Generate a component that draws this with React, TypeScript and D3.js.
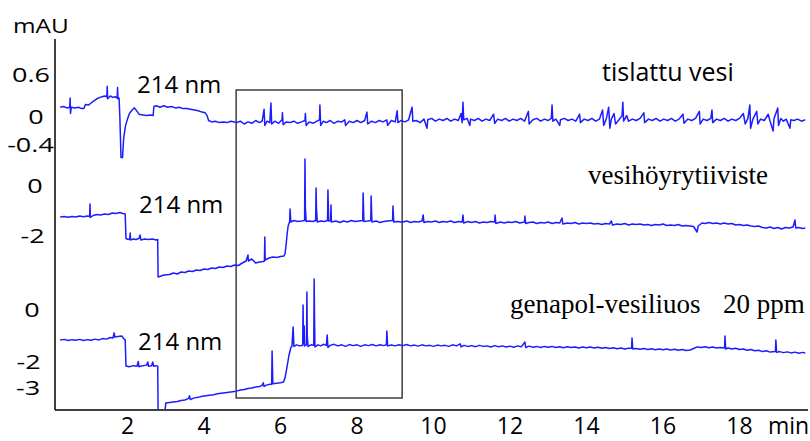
import React from "react";
import * as d3 from "d3";

// ---- data (time in min, absorbance in mAU) ----
const xTicks = [2, 4, 6, 8, 10, 12, 14, 16, 18];

const t1Ticks = [0.6, 0, -0.4];
const t2Ticks = [0, -2];
const t3Ticks = [0, -2, -3];

const traceNames = ["tislattu vesi", "vesihöyrytiiviste", "genapol-vesiliuos", "20 ppm"];
const wavelength = "214 nm";

// tislattu vesi
const trace1: [number, number][] = [
  [0.24,0.14],[0.33,0.15],[0.42,0.13],[0.49,0.14],[0.50,0.27],[0.51,0.05],[0.53,0.14],[0.62,0.13],[0.72,0.14],[0.80,0.12],[0.86,0.12],[0.90,0.18],[0.98,0.17],[1.05,0.2],[1.12,0.23],[1.2,0.26],[1.28,0.28],[1.34,0.29],[1.40,0.3],[1.46,0.29],[1.47,0.44],[1.48,0.26],[1.55,0.3],[1.62,0.28],[1.68,0.29],[1.73,0.27],[1.74,0.42],[1.75,0.26],[1.78,0.27],[1.80,0.0],[1.83,-0.58],[1.87,-0.58],[1.90,-0.3],[1.95,-0.12],[2.0,-0.03],[2.05,0.05],[2.12,0.1],[2.18,0.13],[2.25,0.08],[2.3,0.04],[2.4,0.03],[2.5,0.02],[2.6,0.03],[2.67,0.02],[2.69,0.15],[2.75,0.16],[2.85,0.14],[2.95,0.16],[3.05,0.14],[3.15,0.15],[3.25,0.13],[3.35,0.14],[3.45,0.12],[3.55,0.12],[3.65,0.11],[3.75,0.1],[3.85,0.09],[3.95,0.07],[4.03,0.06],[4.08,0.02],[4.12,-0.05],[4.2,-0.07],[4.3,-0.06],[4.4,-0.08],[4.5,-0.07],[4.6,-0.08],[4.7,-0.06],[4.8,-0.07],
  [4.85,-0.08],[4.95,-0.06],[5.05,-0.1],[5.15,-0.07],[5.25,-0.09],[5.35,-0.05],[5.45,-0.08],[5.52,-0.06],[5.57,0.11],[5.59,-0.12],[5.65,-0.06],[5.72,-0.08],[5.75,0.2],[5.77,-0.1],[5.85,-0.06],[5.95,-0.09],[6.04,-0.04],[6.05,0.06],[6.07,-0.11],[6.15,-0.07],[6.25,-0.08],[6.35,-0.06],[6.45,-0.09],[6.55,-0.07],[6.64,-0.05],[6.65,0.05],[6.67,-0.12],[6.75,-0.07],[6.85,-0.09],[6.95,-0.06],[7.02,-0.04],[7.03,0.17],[7.05,-0.12],[7.12,-0.06],[7.2,-0.08],[7.3,-0.05],[7.4,-0.09],[7.5,-0.06],[7.6,-0.07],[7.68,-0.04],[7.7,-0.12],[7.8,-0.06],[7.9,-0.08],[8.0,-0.05],[8.1,-0.08],[8.2,-0.05],[8.26,0.07],[8.28,-0.1],[8.38,-0.06],[8.48,-0.08],[8.58,-0.05],[8.68,-0.07],[8.78,-0.04],[8.8,-0.12],[8.9,-0.05],[9.0,-0.07],[9.05,0.09],[9.07,-0.08],[9.15,-0.05],[9.25,-0.07],[9.35,-0.04],[9.44,0.14],[9.46,-0.06],[9.55,-0.05],[9.65,-0.08],[9.75,-0.03],[9.83,-0.16],[9.85,-0.04],[9.95,-0.02],[10.05,-0.06],[10.15,-0.03],[10.25,-0.05],[10.35,-0.02],[10.45,-0.06],[10.55,-0.03],[10.65,-0.05],[10.72,0.05],[10.75,-0.08],[10.77,0.21],[10.79,-0.04],[10.88,-0.02],[10.95,-0.12],[10.97,-0.03],[11.07,-0.05],[11.17,-0.02],[11.27,-0.06],[11.37,-0.03],[11.47,-0.05],[11.57,0.04],[11.6,-0.09],[11.68,-0.03],[11.78,-0.05],[11.88,-0.02],[11.98,-0.06],[12.08,-0.03],[12.18,-0.05],[12.28,-0.02],[12.38,-0.06],[12.48,0.08],[12.5,-0.1],[12.6,-0.04],[12.7,-0.02],[12.8,-0.06],[12.9,-0.03],[13.0,-0.05],[13.08,-0.02],[13.1,0.17],[13.12,-0.06],[13.2,-0.03],[13.3,-0.12],[13.32,-0.04],[13.42,-0.02],[13.52,-0.05],[13.62,-0.03],[13.72,-0.06],[13.82,0.04],[13.84,-0.08],[13.94,-0.03],[14.04,-0.05],[14.14,-0.02],[14.24,-0.06],[14.34,-0.03],[14.42,0.1],[14.45,-0.12],[14.52,-0.02],[14.58,0.14],[14.61,-0.16],[14.65,-0.03],[14.72,0.05],[14.76,-0.1],[14.85,-0.04],[14.93,0.02],[14.95,0.21],[14.97,-0.06],[15.05,0.02],[15.1,-0.06],[15.2,-0.03],[15.3,-0.05],[15.4,-0.02],[15.5,0.06],[15.52,-0.08],[15.62,-0.03],[15.72,-0.05],[15.82,-0.02],[15.92,-0.06],[16.02,-0.03],[16.12,-0.05],[16.22,-0.02],[16.32,-0.06],[16.42,-0.03],[16.52,0.04],[16.55,-0.09],[16.65,-0.03],[16.75,-0.05],[16.85,-0.02],[16.95,0.08],[16.97,-0.1],[17.05,-0.03],[17.15,-0.05],[17.25,-0.02],[17.28,0.1],[17.3,-0.08],[17.4,-0.03],[17.5,-0.05],[17.6,-0.02],[17.7,-0.06],[17.8,-0.03],[17.9,-0.05],[18.0,-0.02],[18.1,0.05],[18.15,-0.1],[18.22,-0.02],[18.27,0.17],[18.29,-0.16],[18.35,-0.03],[18.45,0.08],[18.48,-0.1],[18.55,-0.03],[18.65,-0.05],[18.75,0.04],[18.8,-0.06],[18.88,-0.2],[18.9,-0.03],[19.0,0.13],[19.02,-0.12],[19.08,-0.02],[19.15,-0.06],[19.22,-0.03],[19.32,-0.16],[19.34,-0.04],[19.42,-0.05],[19.52,-0.03],[19.62,-0.06],[19.72,-0.04],
];

// vesihöyrytiiviste
const trace2: [number, number][] = [
  [0.24,-1.24],[0.35,-1.22],[0.45,-1.25],[0.55,-1.22],[0.65,-1.24],[0.75,-1.2],[0.85,-1.23],[0.95,-1.2],[1.01,-1.22],[1.02,-0.72],[1.03,-1.26],[1.1,-1.18],[1.2,-1.14],[1.3,-1.16],[1.4,-1.12],[1.5,-1.14],[1.6,-1.08],[1.7,-1.1],[1.8,-1.06],[1.88,-1.1],[1.94,-1.12],[1.96,-2.1],[2.02,-2.14],[2.06,-2.12],[2.07,-1.88],[2.08,-2.16],[2.15,-2.12],[2.22,-2.14],[2.3,-2.1],[2.33,-1.96],[2.35,-2.16],[2.45,-2.12],[2.55,-2.14],[2.65,-2.12],[2.75,-2.16],[2.79,-2.14],[2.80,-3.64],[2.88,-3.6],[2.95,-3.56],[3.1,-3.54],[3.2,-3.48],[3.3,-3.52],[3.4,-3.44],[3.5,-3.46],[3.6,-3.4],[3.7,-3.42],[3.8,-3.36],[3.9,-3.38],[4.0,-3.32],[4.1,-3.34],[4.2,-3.28],[4.3,-3.3],[4.4,-3.24],[4.5,-3.26],[4.6,-3.2],[4.7,-3.22],[4.8,-3.16],[4.9,-3.18],[5.0,-3.08],[5.1,-3.0],[5.15,-2.76],[5.16,-3.0],[5.25,-2.92],[5.35,-3.08],[5.45,-3.04],[5.55,-3.02],[5.58,-3.0],[5.59,-2.04],[5.60,-2.96],[5.7,-2.88],[5.8,-2.84],[5.9,-2.86],[6.0,-2.82],[6.09,-2.8],[6.12,-2.7],[6.15,-2.3],[6.17,-1.96],[6.2,-1.6],[6.24,-1.42],[6.25,-0.92],[6.27,-1.44],[6.35,-1.38],[6.45,-1.42],[6.55,-1.4],[6.63,-1.38],[6.64,1.08],[6.65,-0.84],[6.67,-1.42],[6.75,-1.4],[6.85,-1.42],[6.92,-1.38],[6.93,-0.08],[6.94,-0.86],[6.96,-1.44],[7.05,-1.4],[7.15,-1.42],[7.23,-1.38],[7.24,-0.16],[7.26,-1.4],[7.31,-1.38],[7.32,-0.76],[7.33,-1.44],[7.45,-1.4],[7.55,-1.46],[7.65,-1.4],[7.75,-1.44],[7.85,-1.38],[7.95,-1.42],[8.05,-1.4],[8.15,-1.38],[8.16,-0.28],[8.18,-1.42],[8.28,-1.4],[8.36,-1.38],[8.37,-0.4],[8.39,-1.44],[8.5,-1.4],[8.6,-1.46],[8.7,-1.42],[8.8,-1.4],[8.93,-1.38],[8.94,-0.8],[8.96,-1.44],[9.05,-1.42],[9.15,-1.44],
  [9.2,-1.44],[9.3,-1.4],[9.4,-1.46],[9.5,-1.42],[9.6,-1.44],[9.7,-1.4],[9.73,-1.16],[9.75,-1.46],[9.85,-1.42],[9.95,-1.44],[10.05,-1.4],[10.15,-1.46],[10.25,-1.42],[10.35,-1.44],[10.45,-1.4],[10.55,-1.46],[10.65,-1.42],[10.75,-1.44],[10.77,-1.16],[10.79,-1.48],[10.9,-1.42],[11.0,-1.46],[11.1,-1.42],[11.2,-1.48],[11.3,-1.44],[11.4,-1.46],[11.5,-1.42],[11.6,-1.44],[11.61,-1.16],[11.63,-1.5],[11.75,-1.44],[11.85,-1.48],[11.95,-1.44],[12.05,-1.46],[12.15,-1.42],[12.25,-1.48],[12.38,-1.44],[12.39,-1.2],[12.41,-1.5],[12.5,-1.46],[12.6,-1.44],[12.7,-1.5],[12.8,-1.46],[12.9,-1.48],[13.0,-1.44],[13.1,-1.5],[13.2,-1.46],[13.3,-1.48],[13.36,-1.28],[13.38,-1.52],[13.5,-1.48],[13.6,-1.5],[13.7,-1.46],[13.8,-1.52],[13.9,-1.48],[14.0,-1.5],[14.1,-1.48],[14.2,-1.52],[14.3,-1.5],[14.4,-1.54],[14.5,-1.5],[14.6,-1.52],[14.65,-1.4],[14.68,-1.56],[14.8,-1.52],[14.9,-1.54],[15.0,-1.5],[15.1,-1.56],[15.2,-1.52],[15.3,-1.54],[15.4,-1.52],[15.5,-1.56],[15.6,-1.54],[15.7,-1.58],[15.8,-1.54],[15.9,-1.56],[16.0,-1.52],[16.1,-1.58],[16.2,-1.56],[16.3,-1.58],[16.4,-1.54],[16.5,-1.6],[16.6,-1.58],[16.7,-1.6],[16.8,-1.62],[16.89,-1.84],[16.92,-1.6],[17.02,-1.48],[17.1,-1.5],[17.2,-1.46],[17.3,-1.5],[17.4,-1.48],[17.5,-1.52],[17.6,-1.48],[17.7,-1.52],[17.8,-1.5],[17.9,-1.56],[18.0,-1.54],[18.1,-1.58],[18.2,-1.56],[18.3,-1.6],[18.4,-1.62],[18.5,-1.6],[18.6,-1.66],[18.7,-1.68],[18.8,-1.64],[18.9,-1.7],[19.0,-1.66],[19.1,-1.72],[19.2,-1.66],[19.3,-1.68],[19.4,-1.64],[19.45,-1.36],[19.47,-1.68],[19.55,-1.66],[19.65,-1.7],[19.72,-1.68],
];

// genapol-vesiliuos 20 ppm
const trace3: [number, number][] = [
  [0.24,-1.15],[0.35,-1.13],[0.45,-1.17],[0.55,-1.14],[0.65,-1.16],[0.75,-1.13],[0.85,-1.17],[0.95,-1.14],[1.05,-1.16],[1.15,-1.12],[1.25,-1.15],[1.35,-1.1],[1.45,-1.12],[1.55,-1.06],[1.62,-1.08],[1.65,-0.88],[1.67,-1.04],[1.75,-1.02],[1.85,-1.0],[1.9,-1.1],[1.94,-1.15],[1.96,-2.15],[2.05,-2.18],[2.15,-2.14],[2.25,-2.16],[2.28,-1.98],[2.3,-2.18],[2.4,-2.14],[2.5,-2.12],[2.53,-2.0],[2.55,-2.16],[2.63,-2.14],[2.66,-2.0],[2.68,-2.16],[2.75,-2.14],[2.79,-2.16],[2.80,-3.9],[2.98,-3.9],[3.0,-3.58],[3.1,-3.56],[3.2,-3.54],[3.3,-3.52],[3.4,-3.48],[3.5,-3.46],[3.6,-3.4],[3.62,-3.3],[3.64,-3.44],[3.75,-3.38],[3.85,-3.36],[3.95,-3.32],[4.05,-3.3],[4.15,-3.28],[4.25,-3.26],[4.35,-3.22],[4.45,-3.2],[4.55,-3.18],[4.65,-3.16],[4.75,-3.14],[4.85,-3.12],[4.95,-3.08],[5.05,-3.06],[5.15,-3.02],[5.25,-3.0],[5.35,-2.96],[5.45,-2.94],[5.52,-2.9],[5.55,-2.8],[5.57,-2.94],[5.65,-2.88],[5.73,-2.86],[5.77,-2.86],[5.78,-1.58],[5.8,-2.84],[5.9,-2.82],[6.0,-2.8],[6.08,-2.77],[6.12,-2.6],[6.17,-2.2],[6.22,-1.75],[6.27,-1.45],[6.3,-1.38],[6.33,-0.65],[6.35,-1.4],[6.42,-1.34],[6.5,-1.38],[6.58,-1.36],[6.59,0.19],[6.6,-1.3],[6.62,-0.62],[6.63,-1.38],[6.68,-1.34],[6.69,0.69],[6.7,-1.0],[6.72,-1.4],[6.8,-1.34],[6.87,-1.36],[6.88,1.19],[6.89,-0.3],[6.9,-1.42],[6.98,-1.34],[7.05,-1.38],[7.12,-1.32],[7.2,-1.36],[7.22,-0.96],[7.24,-1.44],[7.3,-1.36],[7.4,-1.32],[7.5,-1.38],[7.6,-1.34],[7.7,-1.4],[7.8,-1.33],[7.9,-1.37],[8.0,-1.34],[8.1,-1.4],[8.2,-1.34],[8.3,-1.37],[8.4,-1.33],[8.5,-1.38],[8.6,-1.34],[8.7,-1.37],[8.77,-1.34],[8.78,-0.81],[8.8,-1.38],[8.9,-1.35],[9.0,-1.38],[9.1,-1.34],[9.2,-1.37],
  [9.3,-1.33],[9.4,-1.38],[9.5,-1.35],[9.6,-1.39],[9.7,-1.34],[9.8,-1.38],[9.9,-1.36],[10.0,-1.4],[10.1,-1.35],[10.2,-1.38],[10.3,-1.36],[10.4,-1.4],[10.5,-1.34],[10.6,-1.38],[10.7,-1.3],[10.72,-1.42],[10.8,-1.36],[10.9,-1.4],[11.0,-1.37],[11.1,-1.41],[11.2,-1.36],[11.3,-1.4],[11.4,-1.38],[11.5,-1.42],[11.6,-1.37],[11.7,-1.41],[11.8,-1.38],[11.9,-1.42],[12.0,-1.39],[12.1,-1.43],[12.2,-1.38],[12.3,-1.41],[12.39,-1.23],[12.41,-1.44],[12.5,-1.39],[12.6,-1.43],[12.7,-1.4],[12.8,-1.44],[12.9,-1.4],[13.0,-1.43],[13.1,-1.4],[13.2,-1.44],[13.3,-1.41],[13.4,-1.45],[13.5,-1.41],[13.6,-1.44],[13.7,-1.42],[13.8,-1.46],[13.9,-1.42],[14.0,-1.45],[14.1,-1.42],[14.2,-1.46],[14.3,-1.43],[14.4,-1.47],[14.5,-1.44],[14.6,-1.48],[14.7,-1.45],[14.8,-1.49],[14.9,-1.46],[15.0,-1.5],[15.1,-1.47],[15.18,-1.47],[15.19,-1.08],[15.21,-1.5],[15.3,-1.48],[15.4,-1.51],[15.5,-1.48],[15.6,-1.52],[15.7,-1.49],[15.8,-1.53],[15.9,-1.5],[16.0,-1.53],[16.1,-1.5],[16.2,-1.54],[16.3,-1.51],[16.4,-1.55],[16.5,-1.52],[16.6,-1.56],[16.71,-1.54],[16.8,-1.48],[16.89,-1.42],[17.0,-1.44],[17.1,-1.41],[17.2,-1.45],[17.3,-1.42],[17.4,-1.46],[17.5,-1.44],[17.61,-1.46],[17.62,-1.0],[17.64,-1.5],[17.7,-1.46],[17.8,-1.5],[17.9,-1.47],[18.0,-1.52],[18.1,-1.5],[18.2,-1.55],[18.3,-1.52],[18.4,-1.57],[18.5,-1.55],[18.6,-1.6],[18.7,-1.57],[18.8,-1.62],[18.94,-1.6],[18.95,-1.15],[18.97,-1.63],[19.05,-1.6],[19.15,-1.64],[19.25,-1.61],[19.35,-1.65],[19.45,-1.62],[19.55,-1.66],[19.65,-1.63],[19.72,-1.65],
];

// highlighted time window (min)
const boxWindow = [4.84, 9.18];

const W = 810;
const H = 441;
const BLUE = "#1c1cff";
const SANS = "'Open Sans', 'Liberation Sans', sans-serif";
const SERIF = "'Liberation Serif', 'Times New Roman', serif";

export default function App() {
  const x = d3.scaleLinear().domain([0, 20]).range([51, 816]);
  const y1 = d3.scaleLinear().domain([-0.4, 0.6]).range([145, 75]);
  const y2 = d3.scaleLinear().domain([-2, 0]).range([236, 186]);
  const y3 = d3.scaleLinear().domain([-3, 0]).range([388, 310]);

  const mk = (ys: d3.ScaleLinear<number, number>) =>
    d3.line<[number, number]>().x((d) => x(d[0])).y((d) => ys(d[1]));

  const axisX0 = 55;
  const axisY = 410;

  const t1LabelX: Record<string, number> = { "0.6": 31, "0": 36, "-0.4": 30.5 };
  const t2LabelX: Record<string, number> = { "0": 35, "-2": 32.5 };
  const t3LabelX: Record<string, number> = { "0": 32, "-2": 28.5, "-3": 28 };

  const yLabel = (v: number, ys: d3.ScaleLinear<number, number>, cx: number, key: string) => (
    <g key={key} transform={`translate(${cx},${ys(v)}) scale(1.35,1)`}>
      <text x={0} y={0} dy="0.36em" textAnchor="middle" fontFamily={SANS} fontSize={20} fill="#000">
        {String(v)}
      </text>
    </g>
  );

  return (
    <svg
      width={W}
      height={H}
      viewBox={`0 0 ${W} ${H}`}
      style={{ position: "absolute", left: 0, top: 0, background: "#fff" }}
    >
      <rect x={0} y={0} width={W} height={H} fill="#fff" />
      <defs>
        <clipPath id="above-axis">
          <rect x={0} y={0} width={W} height={axisY - 1} />
        </clipPath>
      </defs>

      {/* axes */}
      <line x1={axisX0} y1={39} x2={axisX0} y2={axisY} stroke="#000" strokeWidth={1.5} />
      <line x1={axisX0} y1={axisY} x2={808} y2={axisY} stroke="#000" strokeWidth={1.5} />

      {/* box */}
      <rect
        x={x(boxWindow[0])}
        y={90}
        width={x(boxWindow[1]) - x(boxWindow[0])}
        height={308}
        fill="none"
        stroke="#222"
        strokeWidth={1.3}
      />

      {/* traces */}
      <g clipPath="url(#above-axis)" fill="none" stroke={BLUE} strokeWidth={1.5} strokeLinejoin="round">
        <path d={mk(y1)(trace1) || ""} />
        <path d={mk(y2)(trace2) || ""} />
        <path d={mk(y3)(trace3) || ""} />
      </g>

      {/* x tick labels */}
      {xTicks.map((t) => (
        <text key={t} x={x(t)} y={434} textAnchor="middle" fontFamily={SANS} fontSize={23} fill="#000">
          {t}
        </text>
      ))}
      <text x={768} y={434} fontFamily={SANS} fontSize={23} fill="#000">min</text>

      {/* y labels */}
      <g transform="translate(13,33) scale(1.22,1)">
        <text x={0} y={0} fontFamily={SANS} fontSize={20} fill="#000">mAU</text>
      </g>
      {t1Ticks.map((v) => yLabel(v, y1, t1LabelX[String(v)], "a" + v))}
      {t2Ticks.map((v) => yLabel(v, y2, t2LabelX[String(v)], "b" + v))}
      {t3Ticks.map((v) => yLabel(v, y3, t3LabelX[String(v)], "c" + v))}

      {/* annotations */}
      <text x={137} y={93} fontFamily={SANS} fontSize={24} fill="#000">{wavelength}</text>
      <text x={139} y={213} fontFamily={SANS} fontSize={24} fill="#000">{wavelength}</text>
      <text x={138} y={350} fontFamily={SANS} fontSize={24} fill="#000">{wavelength}</text>

      <text x={602} y={81} fontFamily={SANS} fontSize={25} fill="#000">{traceNames[0]}</text>
      <text x={588} y={184} fontFamily={SERIF} fontSize={27} fill="#000">{traceNames[1]}</text>
      <text x={510} y={313} fontFamily={SERIF} fontSize={27} fill="#000">{traceNames[2]}</text>
      <text x={723} y={313} fontFamily={SERIF} fontSize={27} fill="#000">{traceNames[3]}</text>
    </svg>
  );
}
